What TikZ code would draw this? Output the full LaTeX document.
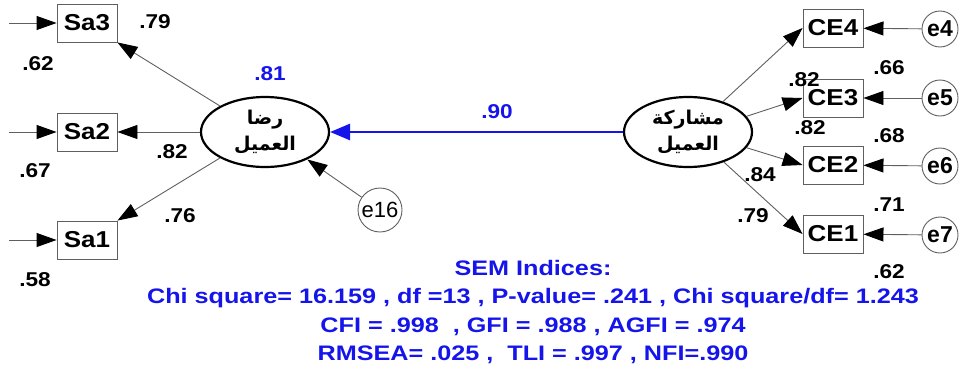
\documentclass[tikz,border=0pt]{standalone}
\usepackage{fontspec}
\usepackage{graphicx}
\setmainfont{Liberation Sans}
\newfontfamily\arabicfont[Script=Arabic]{DejaVu Sans}
\TeXXeTstate=1
\usetikzlibrary{arrows.meta,shapes.geometric}
\definecolor{semblue}{RGB}{20,20,235}
\definecolor{linegray}{RGB}{95,95,95}
\newcommand{\hstr}[1]{\scalebox{1.13}[1]{#1}}
\newcommand{\hstrb}[1]{\scalebox{1.2}[1]{#1}}
\tikzset{
  obs/.style={draw=linegray,line width=0.9pt,minimum width=60pt,minimum height=38pt,inner sep=0pt,font=\fontsize{23}{25}\selectfont\bfseries},
  err/.style={circle,draw=linegray,line width=0.9pt,minimum size=36pt,inner sep=0pt,font=\fontsize{23}{25}\selectfont\bfseries},
  lat/.style={ellipse,draw=black,line width=2.2pt,minimum width=128pt,minimum height=70pt,inner sep=0pt,align=center,font=\arabicfont\fontsize{19}{26}\selectfont\bfseries},
  arr/.style={draw=linegray,line width=0.9pt,-{Triangle[length=20pt,width=14pt,color=black]}},
  lbl/.style={font=\fontsize{20}{22}\selectfont\bfseries,inner sep=0pt},
  blbl/.style={font=\fontsize{20}{22}\selectfont\bfseries,text=semblue,inner sep=0pt},
  idx/.style={font=\fontsize{21}{23}\selectfont\bfseries,text=semblue,inner sep=0pt}
}
\begin{document}
\begin{tikzpicture}[x=1pt,y=-1pt]
\useasboundingbox (0,0) rectangle (960,372);
% left observed
\node[obs] (sa3) at (87,23) {\hstr{Sa3}};
\node[obs] (sa2) at (87,132) {\hstr{Sa2}};
\node[obs] (sa1) at (87,240) {\hstr{Sa1}};
\coordinate (l3) at (9,23);
\coordinate (l2) at (9,132);
\coordinate (l1) at (9,240);
\draw[arr] (l3) -- (sa3);
\draw[arr] (l2) -- (sa2);
\draw[arr] (l1) -- (sa1);
% latents
\node[lat] (sat) at (265,132) {\beginR رضا\endR\\\beginR العميل\endR};
\node[lat] (eng) at (688,132) {\beginR مشاركة\endR\\\beginR العميل\endR};
\draw[arr] (sat.150) -- (sa3.south east);
\draw[arr] (sat.west) -- (sa2.east);
\draw[arr] (sat.210) -- (sa1.north east);
% e16
\node[err,minimum size=44pt,font=\fontsize{22}{24}\selectfont] (e16) at (380,210) {e16};
\draw[arr] (e16) -- (sat.-33);
% structural
\draw[draw=semblue,line width=2.8pt,-{Triangle[length=20pt,width=16pt,color=semblue]}] (eng.west) -- (sat.east);
% right observed
\node[obs] (ce4) at (833,28) {\hstr{CE4}};
\node[obs] (ce3) at (833,98) {\hstr{CE3}};
\node[obs] (ce2) at (833,165) {\hstr{CE2}};
\node[obs] (ce1) at (833,234) {\hstr{CE1}};
\node[err] (e4) at (940,29) {e4};
\node[err] (e5) at (940,98) {e5};
\node[err] (e6) at (940,166) {e6};
\node[err] (e7) at (940,235) {e7};
\draw[arr] (eng.41) -- (ce4.west);
\draw[arr] (eng.15) -- (ce3.west);
\draw[arr] (eng.-15) -- (ce2.west);
\draw[arr] (eng.-40) -- (ce1.west);
\draw[arr] (e4) -- (ce4);
\draw[arr] (e5) -- (ce3);
\draw[arr] (e6) -- (ce2);
\draw[arr] (e7) -- (ce1);
% labels
\node[lbl] (t62a) at (38,64) {\hstr{.62}};
\node[lbl] (t67) at (35,171) {\hstr{.67}};
\node[lbl] (t58) at (35,280) {\hstr{.58}};
\node[lbl] (t79a) at (155,22) {\hstr{.79}};
\node[lbl] (t82a) at (172,152) {\hstr{.82}};
\node[lbl] (t76) at (180,216) {\hstr{.76}};
\node[blbl] (t81) at (270,74) {\hstr{.81}};
\node[blbl] (t90) at (497,112) {\hstr{.90}};
\node[lbl] (t82b) at (804,80) {\hstr{.82}};
\node[lbl] (t66) at (889,68) {\hstr{.66}};
\node[lbl] (t82c) at (810,128) {\hstr{.82}};
\node[lbl] (t68) at (889,136) {\hstr{.68}};
\node[lbl] (t84) at (760,175) {\hstr{.84}};
\node[lbl] (t71) at (889,205) {\hstr{.71}};
\node[lbl] (t79b) at (753,216) {\hstr{.79}};
\node[lbl] (t62b) at (889,272) {\hstr{.62}};
% indices
\node[idx] (i1) at (533,268) {\hstrb{SEM Indices:}};
\node[idx] (i2) at (533,298) {\hstrb{Chi square= 16.159 , df =13 , P-value= .241 , Chi square/df= 1.243}};
\node[idx] (i3) at (533,327) {\hstrb{CFI = .998 \ , GFI = .988 , AGFI = .974}};
\node[idx] (i4) at (533,355) {\hstrb{RMSEA= .025 , \ TLI = .997 , NFI=.990}};
\end{tikzpicture}
\end{document}
